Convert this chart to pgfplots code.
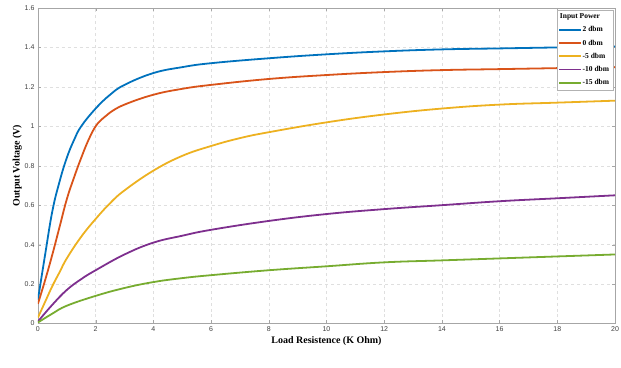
\documentclass[border=0pt]{standalone}
\usepackage{fontspec}
\setmainfont{Liberation Serif}
\setsansfont{Liberation Sans}
\usepackage{pgfplots}
\pgfplotsset{compat=1.18}
\definecolor{mblue}{RGB}{0,114,189}
\definecolor{morange}{RGB}{217,83,25}
\definecolor{myellow}{RGB}{237,177,32}
\definecolor{mpurple}{RGB}{126,47,142}
\definecolor{mgreen}{RGB}{119,172,48}
\begin{document}
\begin{tikzpicture}
\begin{axis}[
  scale only axis, width=578pt, height=316pt,
  xmin=0, xmax=20, ymin=0, ymax=1.6,
  xtick={0,2,...,20}, ytick={0,0.2,...,1.6},
  /pgf/number format/assume math mode=true,
  tick label style={font=\sffamily\fontsize{7}{8}\selectfont, text=black!75},
  yticklabel style={/pgf/number format/fixed},
  grid=major, major grid style={dashed, gray!25},
  axis line style={gray!70}, tick style={gray!70},
  tick align=inside, major tick length=3pt,
  xlabel={\bfseries Load Resistence (K Ohm)},
  ylabel={\bfseries Output Voltage (V)},
  label style={font=\fontsize{10}{11}\selectfont},
  xlabel style={yshift=2pt},
  ylabel style={yshift=-4pt},
  legend style={at={(0.997,0.995)}, anchor=north east, font=\bfseries\fontsize{7.5}{9}\selectfont, draw=gray!60, row sep=2.5pt, inner sep=2pt},
  legend image code/.code={\path[#1, draw=none, fill] (0cm,-0.95pt) rectangle (0.75cm,0.95pt);},
  legend cell align=left,
  every axis plot post/.append style={line width=1.8pt, smooth, tension=0.7},
]
\addlegendimage{empty legend}
\addlegendentry{\hspace{-0.8cm}Input Power}
\addplot[mblue] coordinates {(0,0.12)(0.25,0.35)(0.5,0.57)(0.75,0.72)(1,0.84)(1.25,0.93)(1.5,1.0)(2,1.09)(2.5,1.16)(3,1.21)(4,1.27)(5,1.30)(6,1.32)(8,1.345)(10,1.365)(12,1.38)(14,1.39)(16,1.395)(18,1.40)(20,1.405)};
\addlegendentry{2 dbm}
\addplot[morange] coordinates {(0,0.10)(0.25,0.22)(0.5,0.35)(0.75,0.49)(1,0.63)(1.25,0.74)(1.5,0.84)(1.75,0.93)(2,1.00)(2.25,1.04)(2.5,1.07)(3,1.11)(4,1.16)(5,1.19)(6,1.21)(8,1.24)(10,1.26)(12,1.275)(14,1.285)(16,1.29)(18,1.295)(20,1.30)};
\addlegendentry{0 dbm}
\addplot[myellow] coordinates {(0,0.03)(0.25,0.11)(0.5,0.19)(0.75,0.26)(1,0.33)(1.5,0.44)(2,0.53)(2.5,0.61)(3,0.675)(4,0.775)(5,0.85)(6,0.90)(7,0.94)(8,0.97)(10,1.02)(12,1.06)(14,1.09)(16,1.11)(18,1.12)(20,1.13)};
\addlegendentry{-5 dbm}
\addplot[mpurple] coordinates {(0,0.01)(0.5,0.095)(1,0.17)(1.5,0.225)(2,0.27)(3,0.35)(4,0.41)(5,0.445)(6,0.475)(8,0.52)(10,0.555)(12,0.58)(14,0.60)(16,0.62)(18,0.635)(20,0.65)};
\addlegendentry{-10 dbm}
\addplot[mgreen] coordinates {(0,0.005)(0.5,0.05)(1,0.09)(2,0.14)(3,0.18)(4,0.21)(5,0.23)(6,0.245)(8,0.27)(10,0.29)(12,0.31)(14,0.32)(16,0.33)(18,0.34)(20,0.35)};
\addlegendentry{-15 dbm}
\end{axis}
\pgfresetboundingbox
\path (-38pt,-44pt) rectangle (584pt,324pt);
\end{tikzpicture}
\end{document}
